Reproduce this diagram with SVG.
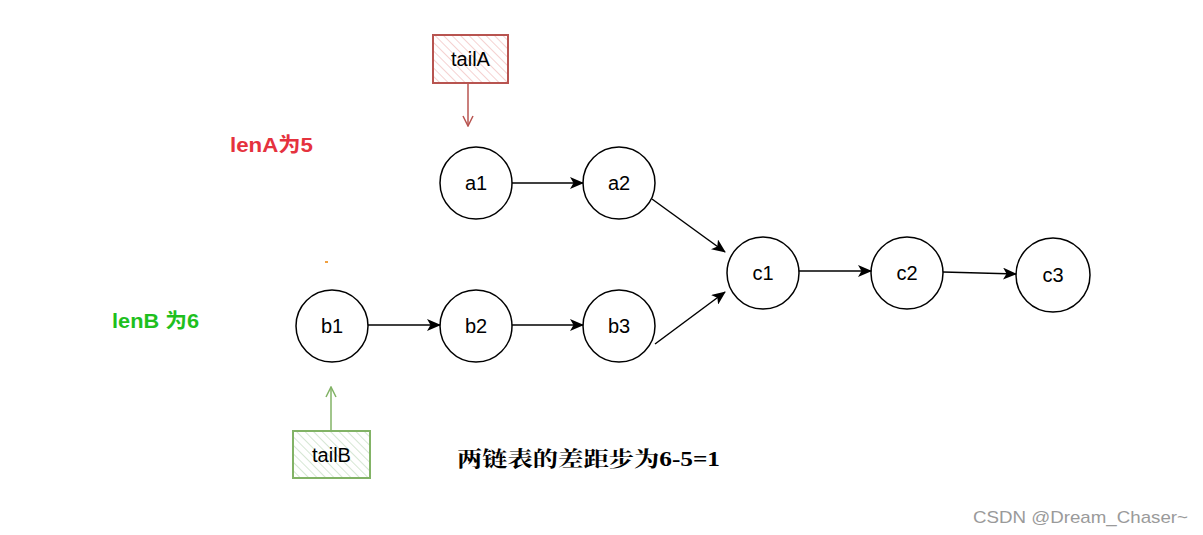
<svg xmlns="http://www.w3.org/2000/svg" width="1203" height="535" viewBox="0 0 1203 535">
<style>
.node circle{fill:#fff;stroke:#000;stroke-width:1.5}
.node text{font-family:"Liberation Sans",Arial,sans-serif;font-size:20px;fill:#000;text-anchor:middle;dominant-baseline:central}
.conn line{stroke:#000;stroke-width:1.5;marker-end:url(#arr)}
.lbl{font-family:"Liberation Sans",Arial,"Noto Sans CJK SC",sans-serif;font-size:20px;font-weight:bold}
</style>
<defs>
<marker id="arr" viewBox="0 0 14 12" refX="13" refY="6" markerWidth="14" markerHeight="12" markerUnits="userSpaceOnUse" orient="auto">
<path d="M0,0 L14,6 L0,12 L3.5,6 Z" fill="#000"/>
</marker>
<marker id="openR" viewBox="0 0 12 12" refX="11" refY="6" markerWidth="12" markerHeight="12" markerUnits="userSpaceOnUse" orient="auto">
<path d="M1,1 L11,6 L1,11" fill="none" stroke="#b85450" stroke-width="1.5"/>
</marker>
<marker id="openG" viewBox="0 0 12 12" refX="11" refY="6" markerWidth="12" markerHeight="12" markerUnits="userSpaceOnUse" orient="auto">
<path d="M1,1 L11,6 L1,11" fill="none" stroke="#82b366" stroke-width="1.5"/>
</marker>
<pattern id="hatchR" width="6" height="6" patternUnits="userSpaceOnUse" patternTransform="rotate(-45)">
<rect width="6" height="6" fill="#fff"/>
<line x1="0" y1="0" x2="0" y2="6" stroke="#f2c4c2" stroke-width="1.5"/>
</pattern>
<pattern id="hatchG" width="6" height="6" patternUnits="userSpaceOnUse" patternTransform="rotate(-45)">
<rect width="6" height="6" fill="#fff"/>
<line x1="0" y1="0" x2="0" y2="6" stroke="#c9dfc6" stroke-width="1.5"/>
</pattern>
</defs>
<rect width="1203" height="535" fill="#fff"/>

<g id="tailA">
<rect x="433" y="35" width="75" height="48" fill="url(#hatchR)" stroke="#b85450" stroke-width="2"/>
<text x="470.5" y="59" font-family="Liberation Sans,Arial,sans-serif" font-size="20" text-anchor="middle" dominant-baseline="central">tailA</text>
</g>
<g id="tailB">
<rect x="293" y="431" width="77" height="47" fill="url(#hatchG)" stroke="#82b366" stroke-width="2"/>
<text x="331.5" y="455" font-family="Liberation Sans,Arial,sans-serif" font-size="20" text-anchor="middle" dominant-baseline="central">tailB</text>
</g>

<g id="a1" class="node"><circle cx="476" cy="183" r="36"/><text x="476" y="183">a1</text></g>
<g id="a2" class="node"><circle cx="619" cy="183" r="36"/><text x="619" y="183">a2</text></g>
<g id="c1" class="node"><circle cx="763" cy="273" r="36"/><text x="763" y="273">c1</text></g>
<g id="c2" class="node"><circle cx="907" cy="273" r="36"/><text x="907" y="273">c2</text></g>
<g id="c3" class="node"><circle cx="1053" cy="275" r="37"/><text x="1053" y="275">c3</text></g>
<g id="b1" class="node"><circle cx="332" cy="326" r="36"/><text x="332" y="326">b1</text></g>
<g id="b2" class="node"><circle cx="476" cy="326" r="36"/><text x="476" y="326">b2</text></g>
<g id="b3" class="node"><circle cx="619" cy="326" r="36"/><text x="619" y="326">b3</text></g>

<g id="connectors" class="conn">
<line x1="512" y1="183" x2="583" y2="183"/>
<line x1="652" y1="199" x2="725" y2="252"/>
<line x1="655" y1="344" x2="725" y2="292"/>
<line x1="799" y1="271" x2="871" y2="271"/>
<line x1="943" y1="272" x2="1016" y2="274"/>
<line x1="368" y1="325" x2="440" y2="325"/>
<line x1="512" y1="325" x2="583" y2="325"/>
<line x1="468" y1="83" x2="468" y2="126" style="stroke:#b85450;marker-end:url(#openR)"/>
<line x1="331" y1="430" x2="331" y2="387" style="stroke:#82b366;marker-end:url(#openG)"/>
</g>

<text class="lbl" x="230" y="152" fill="#e5323e" textLength="83" lengthAdjust="spacingAndGlyphs">lenA为5</text>
<text class="lbl" x="112" y="328" fill="#1ec01e" textLength="87" lengthAdjust="spacingAndGlyphs">lenB 为6</text>
<rect x="325" y="261" width="3" height="2" fill="#f0a040"/>
<text x="457" y="466" font-family="Liberation Serif,'Noto Serif CJK SC','Noto Sans CJK SC',serif" font-size="21" font-weight="bold" fill="#000" textLength="263" lengthAdjust="spacingAndGlyphs">两链表的差距步为6-5=1</text>
<text x="973" y="523" font-family="Liberation Sans,Arial,sans-serif" font-size="17" fill="#9a9a9a" textLength="215" lengthAdjust="spacingAndGlyphs">CSDN @Dream_Chaser~</text>
</svg>
